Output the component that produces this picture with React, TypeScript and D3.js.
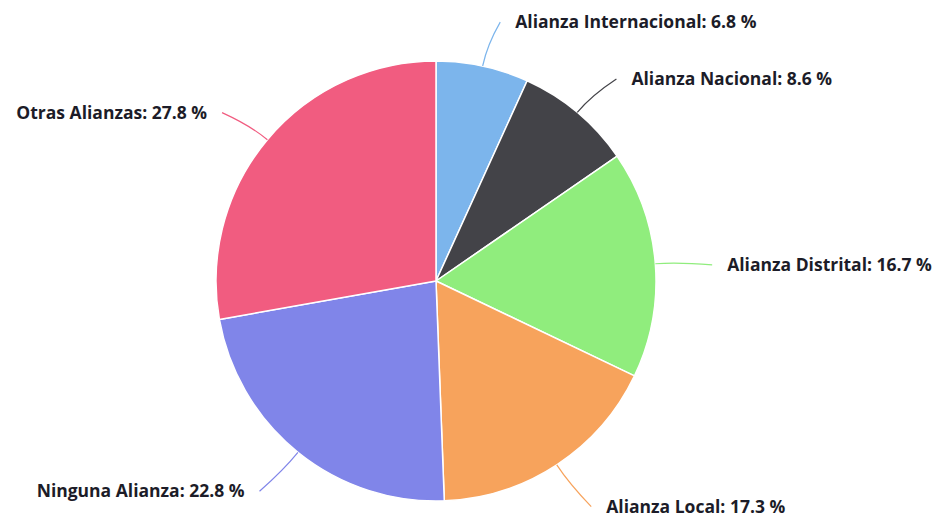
import React from "react";
import * as d3 from "d3";

const categories = [
  "Alianza Internacional",
  "Alianza Nacional",
  "Alianza Distrital",
  "Alianza Local",
  "Ninguna Alianza",
  "Otras Alianzas",
];
const values = [6.8, 8.6, 16.7, 17.3, 22.8, 27.8];
const colors = ["#7cb5ec", "#434348", "#90ed7d", "#f7a35c", "#8085e9", "#f15c80"];

const W = 939;
const H = 517;
const cx = 436;
const cy = 281;
const R = 220;
const labelR = 270;

export default function App() {
  const pie = d3.pie<number>().sort(null).value((d) => d)(values);
  const arc = d3.arc<d3.PieArcDatum<number>>().innerRadius(0).outerRadius(R);

  return (
    <svg
      width={W}
      height={H}
      style={{ position: "fixed", left: 0, top: 0, background: "#fff" }}
    >
      <g transform={`translate(${cx},${cy})`}>
        {pie.map((p, i) => (
          <path key={i} d={arc(p) || ""} fill={colors[i]} stroke="#fff" strokeWidth={1.5} strokeLinejoin="round" />
        ))}
        {pie.map((p, i) => {
          const a = (p.startAngle + p.endAngle) / 2;
          const s = Math.sin(a);
          const c = -Math.cos(a);
          const right = s >= 0;
          const sign = right ? 1 : -1;
          const ex = R * s;
          const ey = R * c;
          const lx = labelR * s;
          const upper = c < 0.5;
          const ly = labelR * c + (upper ? 5 : 0);
          const endX = lx + sign * 7;
          const ctrlX = (R + 22) * s;
          const ctrlY = (R + 22) * c;
          const textX = lx + sign * 22;
          return (
            <g key={"l" + i}>
              <path
                d={`M${ex},${ey} Q${ctrlX},${ctrlY} ${endX},${ly}`}
                fill="none"
                stroke={colors[i]}
                strokeWidth={1.2}
              />
              <text
                x={textX}
                y={ly}
                dy="0.35em"
                textAnchor={right ? "start" : "end"}
                fontFamily="'Open Sans', sans-serif"
                fontWeight="bold"
                fontSize={17.5}
                fill="#1c1c28"
              >
                {`${categories[i]}: ${values[i].toFixed(1)} %`}
              </text>
            </g>
          );
        })}
      </g>
    </svg>
  );
}
